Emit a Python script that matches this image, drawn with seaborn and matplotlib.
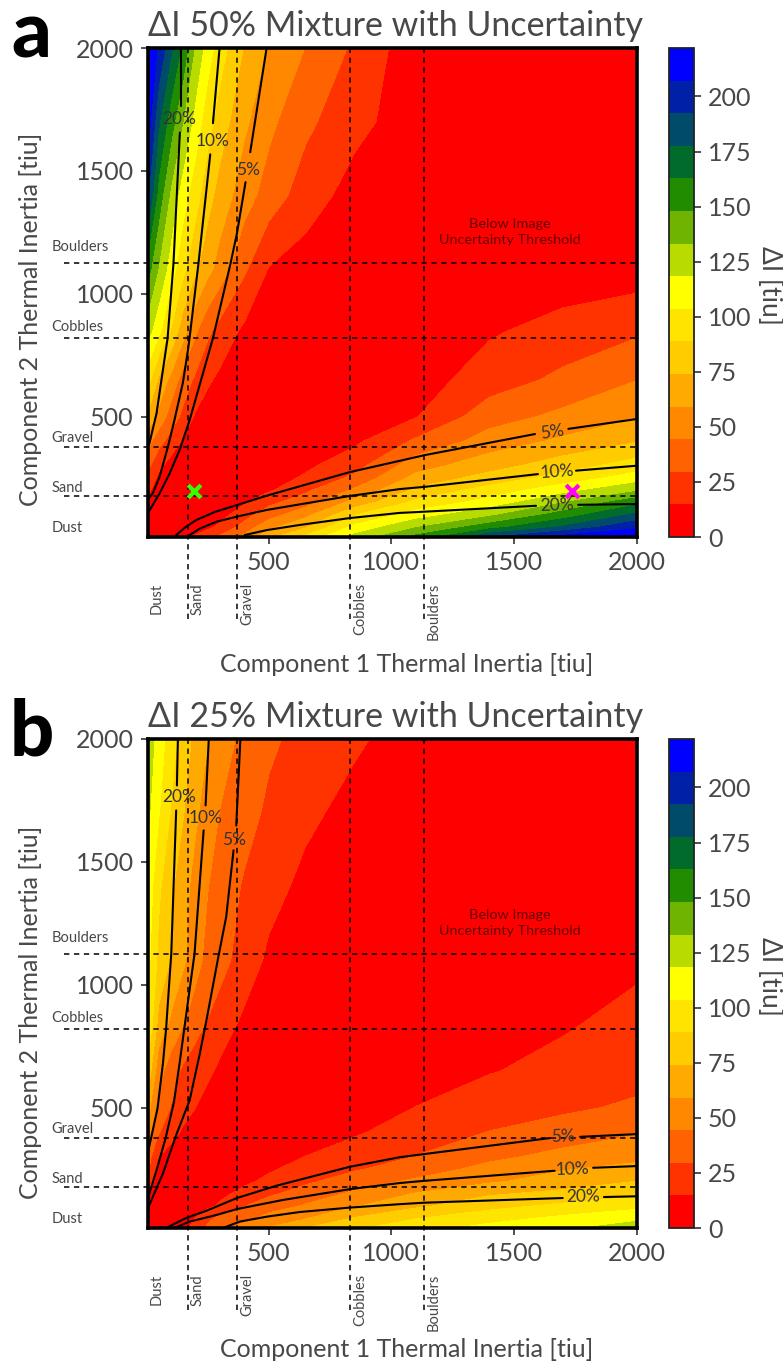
import numpy as np
import seaborn as sns
from matplotlib import pyplot as plt
from matplotlib.colors import ListedColormap, BoundaryNorm

ti_grid = [5, 50, 100, 150, 200, 250, 300, 400, 500, 650, 850, 1100, 1400, 1700, 2000]

# rows go up the y axis, columns along the x axis, values
delta_a = [
    [0, 3, 6, 12, 18, 25, 34, 50, 72, 95, 125, 155, 195, 217, 221],
    [3, 0, 2, 3, 7, 12, 18, 35, 55, 72, 108, 132, 157, 180, 205],
    [6, 2, 0, 2, 3, 5, 9, 24, 38, 55, 88, 111, 130, 155, 181],
    [12, 3, 2, 0, 2, 3, 5, 13, 26, 38, 65, 93, 110, 133, 159],
    [18, 7, 3, 2, 0, 2, 3, 8, 13, 27, 47, 77, 95, 113, 131],
    [25, 12, 5, 3, 2, 0, 2, 5, 8, 17, 33, 64, 80, 95, 111],
    [34, 18, 9, 5, 3, 2, 0, 3, 5, 12, 24, 53, 68, 82, 96],
    [50, 35, 24, 13, 8, 5, 3, 0, 2, 6, 12, 32, 51, 62, 73],
    [72, 55, 38, 26, 13, 8, 5, 2, 0, 2, 5, 14, 38, 48, 58],
    [95, 72, 55, 38, 27, 17, 12, 6, 2, 0, 3, 8, 22, 33, 44],
    [125, 108, 88, 65, 47, 33, 24, 12, 5, 3, 0, 3, 13, 20, 27],
    [155, 132, 111, 93, 77, 64, 53, 32, 14, 8, 3, 0, 3, 6, 7],
    [195, 157, 130, 110, 95, 80, 68, 51, 38, 22, 9, 3, 0, 2, 3],
    [217, 180, 155, 133, 113, 95, 82, 62, 48, 33, 19, 7, 3, 0, 2],
    [221, 205, 181, 159, 131, 111, 96, 73, 58, 44, 27, 5, 3, 2, 0],
]

delta_b = [
    [0, 3, 6, 10, 22, 33, 42, 52, 61, 76, 88, 99, 110, 117, 127],
    [5, 0, 5, 9, 15, 26, 33, 39, 50, 58, 75, 88, 98, 107, 115],
    [9, 2, 0, 4, 7, 11, 17, 29, 37, 46, 58, 71, 84, 92, 99],
    [15, 3, 2, 0, 4, 7, 11, 19, 27, 36, 47, 60, 72, 78, 85],
    [27, 7, 3, 2, 0, 4, 7, 12, 18, 27, 37, 47, 57, 66, 74],
    [33, 11, 6, 3, 2, 0, 4, 8, 13, 20, 28, 37, 49, 58, 64],
    [37, 15, 9, 5, 3, 2, 0, 5, 9, 15, 22, 30, 41, 49, 55],
    [50, 31, 20, 13, 8, 5, 3, 0, 4, 8, 13, 22, 30, 36, 43],
    [65, 41, 29, 20, 15, 9, 6, 3, 0, 4, 9, 15, 22, 27, 32],
    [85, 50, 37, 27, 20, 18, 12, 6, 3, 0, 4, 9, 14, 19, 24],
    [105, 70, 57, 46, 37, 29, 23, 12, 6, 3, 0, 3, 7, 13, 19],
    [109, 85, 73, 62, 50, 40, 35, 23, 12, 6, 3, 0, 3, 5, 12],
    [114, 92, 77, 65, 54, 45, 38, 28, 20, 11, 5, 3, 0, 3, 5],
    [122, 105, 88, 75, 62, 52, 44, 35, 27, 18, 10, 5, 3, 0, 3],
    [128, 112, 96, 82, 70, 60, 52, 40, 32, 25, 17, 8, 5, 3, 0],
]

nan = np.nan

# contour lines, nan marks the gap left for the label
a20_up_x = [140, 140, nan, 137, 111, 87, 66, 42, 13, 7]
a20_up_y = [2000, 1762, nan, 1656, 1124, 819, 677, 514, 392, 376]
a10_up_x = [299, 272, nan, 261, 213, 177, 170, 149, 115, 88, 54, 27, 7]
a10_up_y = [2000, 1694, nan, 1567, 1124, 823, 770, 636, 486, 376, 254, 189, 162]
a5_up_x = [491, 424, nan, 405, 370, 344, 272, 235, 177, 136, 95, 54, 7]
a5_up_y = [2000, 1576, nan, 1454, 1246, 1124, 819, 689, 486, 364, 268, 187, 108]
a5_low_x = [122, 160, 204, 280, 370, 491, 830, 1034, 1135, 1586, nan, 1722, 2000]
a5_low_y = [18, 50, 79, 112, 140, 178, 274, 320, 343, 429, nan, 450, 490]
a10_low_x = [177, 218, 286, 370, 491, 830, 1034, 1135, 1598, nan, 1753, 2000]
a10_low_y = [18, 44, 72, 93, 120, 177, 205, 214, 266, nan, 280, 300]
a20_low_x = [401, 491, 626, 830, 1034, 1135, 1590, nan, 1762, 2000]
a20_low_y = [18, 38, 59, 87, 108, 113, 137, nan, 141, 144]

b20_up_x = [129, 125, nan, 122, 102, 81, 68, 46, 24, 7]
b20_up_y = [2000, 1811, nan, 1709, 1127, 823, 680, 498, 396, 319]
b10_up_x = [255, 242, nan, 234, 197, 156, 136, 113, 79, 42, 7]
b10_up_y = [2000, 1730, nan, 1628, 1127, 828, 681, 523, 376, 246, 132]
b5_up_x = [384, 367, nan, 356, 326, 294, 247, 217, 177, 122, 68, 7]
b5_up_y = [2000, 1648, nan, 1547, 1276, 1113, 863, 713, 530, 388, 232, 91]
b5_low_x = [81, 163, 245, 370, 531, 830, 1034, 1135, 1647, nan, 1770, 2000]
b5_low_y = [10, 51, 80, 132, 182, 259, 298, 311, 376, nan, 381, 392]
b10_low_x = [115, 177, 286, 370, 557, 830, 1034, 1135, 1666, nan, 1823, 2000]
b10_low_y = [10, 36, 63, 87, 124, 168, 193, 202, 243, nan, 255, 262]
b20_low_x = [313, 381, 491, 626, 830, 1034, 1135, 1699, nan, 1867, 2000]
b20_low_y = [10, 36, 56, 75, 93, 107, 113, 132, nan, 136, 139]

grain_names = ['Dust', 'Sand', 'Gravel', 'Cobbles', 'Boulders']
grain_x = [172, 370, 830, 1135]
grain_y = [177, 376, 820, 1125]
grain_label_x = [42, 209, 413, 871, 1173]
grain_label_y = [47, 209, 412, 864, 1189]

pct_labels = ['20%', '10%', '5%']
a_label_x = [136, 269, 414, 1676, 1676, 1654]
a_label_y = [1713, 1620, 1502, 140, 274, 438]
a_label_rot = [0, 0, 0, 2, 4, 9]
b_label_x = [133, 241, 358, 1784, 1740, 1700]
b_label_y = [1762, 1677, 1591, 136, 250, 380]
b_label_rot = [0, 0, 0, 1, 2, 2]

band_colors = ['#ff0000', '#ff3300', '#ff6200', '#ff8800', '#ffaa00', '#ffcc00', '#ffe400', '#ffff00',
               '#b8dc00', '#6eb400', '#228c00', '#006b2a', '#004a6a', '#0020a8', '#0000ff']
band_edges = np.linspace(0, 222, 16)
cbar_ticks = [0, 25, 50, 75, 100, 125, 150, 175, 200]
ti_ticks = [500, 1000, 1500, 2000]

sns.set_theme(style='ticks')
plt.rcParams['font.family'] = ['Lato Light', 'Lato', 'DejaVu Sans']
plt.rcParams['text.color'] = '#484848'
plt.rcParams['axes.labelcolor'] = '#484848'
plt.rcParams['xtick.labelcolor'] = '#484848'
plt.rcParams['ytick.labelcolor'] = '#484848'

cmap = ListedColormap(band_colors)
norm = BoundaryNorm(band_edges, cmap.N)
W, H = 783, 1361


def draw_panel(top, field, up_lines, low_lines, label_x, label_y, label_rot, title, xlabel_y, ylabel_y):
    ax = fig.add_axes([147.5 / W, 1 - (top + 489) / H, 489 / W, 489 / H])
    cax = fig.add_axes([669 / W, 1 - (top + 489) / H, 25 / W, 489 / H])
    cs = ax.contourf(ti_grid, ti_grid, field, levels=band_edges, cmap=cmap, norm=norm)
    for x, y in up_lines + low_lines:
        x, y = np.array(x, dtype=float), np.array(y, dtype=float)
        sns.lineplot(x=x, y=y, units=np.cumsum(np.isnan(y)), estimator=None, sort=False,
                     color='black', lw=1.5, ax=ax, legend=False)
    for gx in grain_x:
        ax.axvline(gx, ymin=-0.168, ymax=1, clip_on=False, color='black', lw=1.1, dashes=(3.5, 3), zorder=4)
    for gy in grain_y:
        ax.axhline(gy, xmin=-0.17, xmax=1, clip_on=False, color='black', lw=1.1, dashes=(3.5, 3), zorder=4)
    for name, gx, gy in zip(grain_names, grain_label_x, grain_label_y):
        ax.text(gx, -0.094, name, rotation=90, ha='center', va='top', fontsize=10.5,
                transform=ax.get_xaxis_transform())
        ax.text(-0.196, gy, name, ha='left', va='center', fontsize=10.5,
                transform=ax.get_yaxis_transform())
    for txt, lx, ly, rot in zip(pct_labels + pct_labels, label_x, label_y, label_rot):
        ax.text(lx, ly, txt, rotation=rot, ha='center', va='center', fontsize=12.5, color='#333333', zorder=6)
    ax.text(1484, 1250, 'Below Image\nUncertainty Threshold', ha='center', va='center', fontsize=10.4,
            color='#660000', linespacing=1.4)
    ax.set_xlim(5, 2000)
    ax.set_ylim(10, 2000)
    ax.set_xticks(ti_ticks)
    ax.set_yticks(ti_ticks)
    ax.tick_params(labelsize=18, length=5, width=1.1, pad=5, color='#222222')
    ax.set_title(title, fontsize=24.5, loc='left', pad=9)
    ax.set_xlabel('Component 1 Thermal Inertia [tiu]', fontsize=18)
    ax.set_ylabel('Component 2 Thermal Inertia [tiu]', fontsize=18)
    ax.xaxis.set_label_coords(0.53, xlabel_y)
    ax.yaxis.set_label_coords(-0.215, ylabel_y)
    for spine in ax.spines.values():
        spine.set_visible(True)
        spine.set_linewidth(2.6)
        spine.set_color('black')
        spine.set_zorder(8)
    cb = fig.colorbar(cs, cax=cax, ticks=cbar_ticks)
    cb.minorticks_off()
    cb.outline.set_linewidth(1.3)
    cb.outline.set_edgecolor('#222222')
    cax.tick_params(labelsize=18, length=5, width=1.1, pad=5, color='#222222')
    cb.set_label('ΔI [tiu]', fontsize=19, rotation=270, labelpad=22, y=0.515)
    return ax


fig = plt.figure(figsize=(W / 100, H / 100), dpi=100)

ax_a = draw_panel(48, delta_a,
                  [(a20_up_x, a20_up_y), (a10_up_x, a10_up_y), (a5_up_x, a5_up_y)],
                  [(a5_low_x, a5_low_y), (a10_low_x, a10_low_y), (a20_low_x, a20_low_y)],
                  a_label_x, a_label_y, a_label_rot, 'ΔI 50% Mixture with Uncertainty', -0.237, 0.446)
ax_b = draw_panel(739, delta_b,
                  [(b20_up_x, b20_up_y), (b10_up_x, b10_up_y), (b5_up_x, b5_up_y)],
                  [(b5_low_x, b5_low_y), (b10_low_x, b10_low_y), (b20_low_x, b20_low_y)],
                  b_label_x, b_label_y, b_label_rot, 'ΔI 25% Mixture with Uncertainty', -0.225, 0.441)

sns.scatterplot(x=[196], y=[197], marker='x', s=85, linewidth=3, color='#33ff00', ax=ax_a, zorder=7, legend=False)
sns.scatterplot(x=[1738], y=[197], marker='x', s=85, linewidth=3, color='#ff00ff', ax=ax_a, zorder=7, legend=False)

fig.text(11 / W, 1 - 57 / H, 'a', family='Lato', fontsize=56, fontweight='black', color='black', ha='left', va='baseline')
fig.text(10 / W, 1 - 755 / H, 'b', family='Lato', fontsize=56, fontweight='black', color='black', ha='left', va='baseline')

plt.savefig('out.png', dpi=100)
